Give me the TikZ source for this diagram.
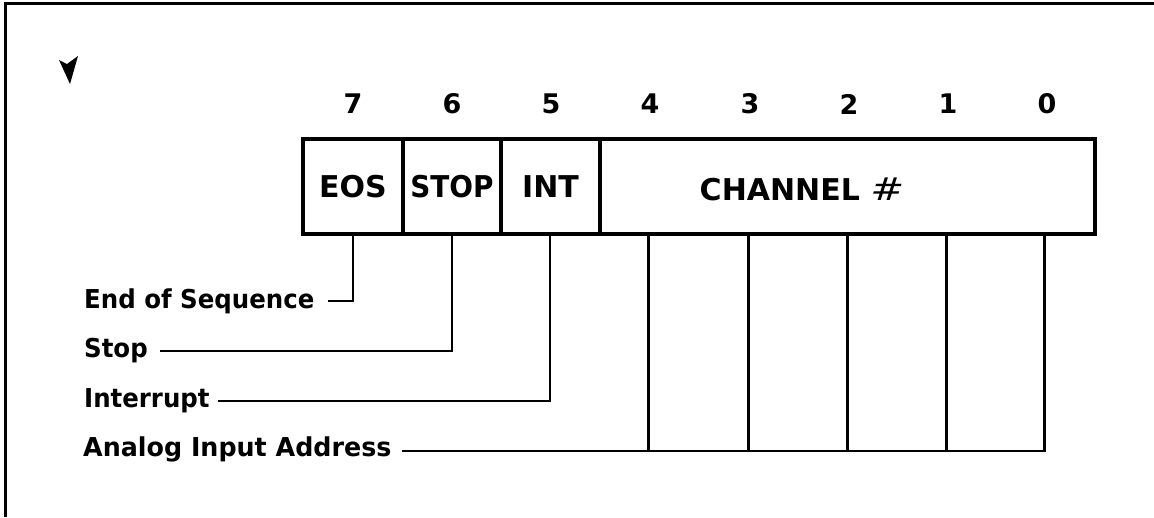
\documentclass[tikz,border=0pt]{standalone}
\usepackage{fontspec}
\setmainfont{DejaVu Sans}
\usepackage{graphicx}
\newcommand{\narrowtext}[2][0.94]{\scalebox{#1}[1]{#2}}
\tikzset{
  cell/.style={draw, line width=3.2pt, inner sep=0pt, minimum height=95pt, font=\bfseries\fontsize{30}{30}\selectfont},
  bitnum/.style={font=\bfseries\fontsize{27}{27}\selectfont, inner sep=0pt},
  lbl/.style={font=\bfseries\fontsize{26}{26}\selectfont, inner sep=0pt, anchor=base west},
  conn/.style={line width=2.6pt},
  frameline/.style={line width=3pt}
}
\begin{document}
\begin{tikzpicture}[x=1pt,y=-1pt]
\useasboundingbox (0,0) rectangle (1154,517);
% frame (top and left only)
\draw[frameline] (5,517) -- (5,3) -- (1154,3);
% small arrow mark
\fill (59,60) -- (67,64) -- (78,56) -- (70,84) -- cycle;
% register cells
\node[cell, minimum width=100pt] (eos) at (353,186.5) {EOS};
\node[cell, minimum width=98pt] (stop) at (452,186.5) {\scalebox{0.93}[1]{STOP}};
\node[cell, minimum width=99pt] (int) at (550.5,186.5) {INT};
\node[cell, minimum width=495pt] (chan) at (847.5,186.5) {};
\node[font=\bfseries\fontsize{30}{30}\selectfont, inner sep=0pt] (chantxt) at (802,189) {CHANNEL {\mdseries\itshape\scalebox{1.35}[1.05]{\#}}};
% bit numbers
\node[bitnum] (n7) at (353,104) {7};
\node[bitnum] (n6) at (452,104) {6};
\node[bitnum] (n5) at (551,104) {5};
\node[bitnum] (n4) at (650,104) {4};
\node[bitnum] (n3) at (750,104) {3};
\node[bitnum] (n2) at (849,104) {2};
\node[bitnum] (n1) at (948,104) {1};
\node[bitnum] (n0) at (1047,104) {0};
% labels
\node[lbl] (leos) at (84,308) {\narrowtext{End of Sequence}};
\node[lbl] (lstop) at (84,357) {\narrowtext{Stop}};
\node[lbl] (lint) at (84,407) {\narrowtext{Interrupt}};
\node[lbl] (lana) at (83,456) {\narrowtext[0.975]{Analog Input Address}};
% connector ends
\coordinate (eEnd) at (328,301);
\coordinate (sEnd) at (160,351);
\coordinate (iEnd) at (218,401);
\coordinate (aEnd) at (402,451);
% connectors
\draw[conn] (eos.south) |- (eEnd);
\draw[conn] (stop.south) |- (sEnd);
\draw[conn] ([xshift=-0.5pt]int.south) |- (iEnd);
\foreach \s in {50,150,249,348}
  \draw[conn] ([xshift=\s pt]chan.south west) -- ([xshift=\s pt]chan.south west |- aEnd);
\draw[conn] ([xshift=446pt]chan.south west) |- (aEnd);
\end{tikzpicture}
\end{document}
